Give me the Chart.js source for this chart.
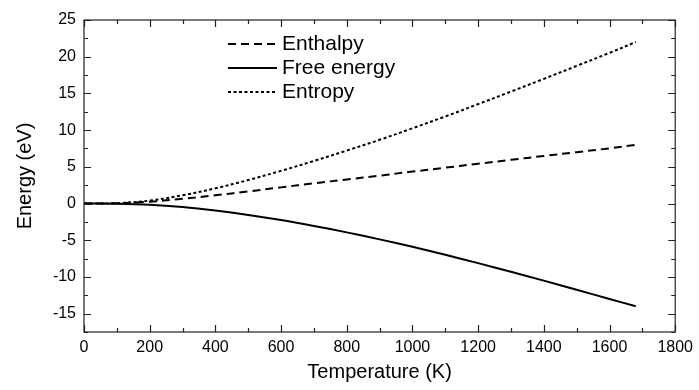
<!DOCTYPE html>
<html>
<head>
<meta charset="utf-8">
<script src="https://cdn.jsdelivr.net/npm/chart.js@4.4.1/dist/chart.umd.min.js"></script>
<style>
  html, body { margin: 0; padding: 0; background: #fff; }
  #wrap { width: 699px; height: 390px; position: relative; }
</style>
</head>
<body>
<div id="wrap"><canvas id="c"></canvas></div>
<script>
// ---- data ----
const temperatures = [0, 100, 200, 300, 400, 500, 600, 700, 800, 900, 1000, 1100, 1200, 1300, 1400, 1500, 1600, 1680];
const enthalpy     = [0, 0.03, 0.25, 0.65, 1.12, 1.65, 2.2, 2.75, 3.28, 3.8, 4.35, 4.88, 5.42, 5.95, 6.48, 7.0, 7.52, 8.0];
const freeEnergy   = [0, -0.02, -0.15, -0.47, -0.95, -1.55, -2.25, -3.05, -3.93, -4.88, -5.9, -6.98, -8.12, -9.3, -10.5, -11.75, -13.0, -14.0];
const entropy      = [0, 0.05, 0.4, 1.12, 2.07, 3.2, 4.45, 5.8, 7.21, 8.68, 10.25, 11.86, 13.54, 15.25, 16.98, 18.75, 20.52, 22.0];
const seriesLabels = ['Enthalpy', 'Free energy', 'Entropy'];
const xTicks = [0, 200, 400, 600, 800, 1000, 1200, 1400, 1600, 1800];
const yTicks = [-15, -10, -5, 0, 5, 10, 15, 20, 25];
const xTitle = 'Temperature (K)';
const yTitle = 'Energy (eV)';

const FONT = '"Liberation Sans", Arial, sans-serif';
const INK = '#000';

function pts(ys) { return temperatures.map((t, i) => ({ x: t, y: ys[i] })); }

// inward ticks on all four sides + frame
const framePlugin = {
  id: 'frame',
  afterDatasetsDraw(chart) {
    const { ctx, chartArea: a, scales } = chart;
    const xs = scales.x, ys = scales.y;
    ctx.save();
    ctx.strokeStyle = '#222';
    ctx.lineWidth = 1.2;
    ctx.strokeRect(a.left, a.top, a.right - a.left, a.bottom - a.top);
    ctx.beginPath();
    const major = 7, minor = 4;
    for (let v = xs.min; v <= xs.max + 1e-9; v += 100) {
      const px = Math.round(xs.getPixelForValue(v)) + 0.5;
      const len = (Math.round(v) % 200 === 0) ? major : minor;
      ctx.moveTo(px, a.bottom); ctx.lineTo(px, a.bottom - len);
      ctx.moveTo(px, a.top); ctx.lineTo(px, a.top + len);
    }
    for (let v = ys.min; v <= ys.max + 1e-9; v += 2.5) {
      const py = Math.round(ys.getPixelForValue(v)) + 0.5;
      const len = (Math.abs(v % 5) < 1e-6) ? major : minor;
      ctx.moveTo(a.left, py); ctx.lineTo(a.left + len, py);
      ctx.moveTo(a.right, py); ctx.lineTo(a.right - len, py);
    }
    ctx.stroke();
    ctx.restore();
  }
};

// legend drawn inside the plot area
const legendPlugin = {
  id: 'innerLegend',
  afterDraw(chart) {
    const { ctx } = chart;
    const x0 = 228, x1 = 277, tx = 282, y0 = 44, dy = 24;
    ctx.save();
    ctx.font = '21px ' + FONT;
    ctx.textBaseline = 'middle';
    ctx.fillStyle = INK;
    chart.data.datasets.forEach((ds, i) => {
      const y = y0 + i * dy;
      ctx.beginPath();
      ctx.strokeStyle = ds.borderColor;
      ctx.lineWidth = ds.borderWidth;
      ctx.setLineDash(ds.borderDash || []);
      ctx.moveTo(x0, y); ctx.lineTo(x1, y);
      ctx.stroke();
      ctx.setLineDash([]);
      ctx.fillText(ds.label, tx, y);
    });
    ctx.restore();
  }
};

const lineCommon = { borderColor: INK, borderWidth: 2, pointRadius: 0, tension: 0.35, fill: false };

new Chart(document.getElementById('c'), {
  type: 'line',
  data: {
    datasets: [
      Object.assign({ label: seriesLabels[0], data: pts(enthalpy), borderDash: [8, 5] }, lineCommon),
      Object.assign({ label: seriesLabels[1], data: pts(freeEnergy) }, lineCommon),
      Object.assign({ label: seriesLabels[2], data: pts(entropy), borderDash: [3, 2.5] }, lineCommon)
    ]
  },
  options: {
    responsive: true,
    maintainAspectRatio: false,
    animation: false,
    events: [],
    layout: { padding: { left: 0, right: 22, top: 20, bottom: 0 } },
    plugins: { legend: { display: false }, tooltip: { enabled: false } },
    scales: {
      x: {
        type: 'linear', min: 0, max: 1800,
        afterBuildTicks: s => { s.ticks = xTicks.map(v => ({ value: v })); },
        afterFit: s => { s.height = 58; },
        grid: { display: false, drawTicks: false },
        border: { display: false },
        ticks: { color: INK, font: { family: FONT, size: 16 }, padding: 6, maxRotation: 0, autoSkip: false,
                 callback: v => String(v) },
        title: { display: true, text: xTitle, color: INK, font: { family: FONT, size: 20 }, padding: { top: 0, bottom: 6 } }
      },
      y: {
        type: 'linear', min: -17.5, max: 25,
        afterBuildTicks: s => { s.ticks = yTicks.map(v => ({ value: v })); },
        afterFit: s => { s.width = 84; },
        grid: { display: false, drawTicks: false },
        border: { display: false },
        ticks: { color: INK, font: { family: FONT, size: 16 }, padding: 8, callback: v => String(v) },
        title: { display: true, text: yTitle, color: INK, font: { family: FONT, size: 20 }, padding: { top: 13, bottom: 0 } }
      }
    }
  },
  plugins: [framePlugin, legendPlugin]
});
</script>
</body>
</html>
